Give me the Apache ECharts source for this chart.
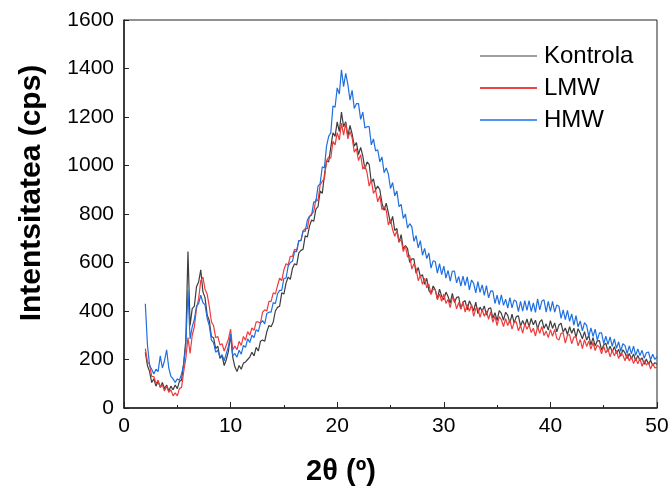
<!DOCTYPE html>
<html>
<head>
<meta charset="utf-8">
<script src="https://cdn.jsdelivr.net/npm/echarts@6/dist/echarts.min.js"></script>
<style>
html,body{margin:0;padding:0;background:#fff;}
#chart{width:672px;height:491px;}
</style>
</head>
<body>
<div id="chart"></div>
<script>
// 2θ sampling grid: 2.0 .. 50.0 step 0.2 (241 points)
const twoTheta = Array.from({length: 241}, (_, i) => Math.round((2 + i * 0.2) * 10) / 10);

const seriesNames = ['Kontrola', 'LMW', 'HMW'];

const kontrola = [
  230, 175, 150, 105, 120, 90, 110, 85, 105, 80,
  95, 70, 90, 75, 95, 80, 110, 115, 185, 280,
  645, 340, 410, 420, 500, 520, 570, 480, 455, 385,
  360, 295, 290, 245, 255, 205, 215, 175, 200, 235,
  300, 210, 170, 150, 175, 160, 185, 190, 200, 210,
  230, 215, 250, 235, 275, 280, 275, 315, 340, 335,
  355, 400, 415, 420, 475, 470, 515, 540, 530, 575,
  595, 590, 640, 650, 655, 710, 705, 750, 775, 770,
  820, 830, 895, 885, 960, 1020, 1015, 1075, 1135, 1120,
  1180, 1140, 1220, 1160, 1180, 1120, 1165, 1130, 1080, 1095,
  1045, 1075, 1040, 985, 1015, 1005, 930, 945, 900, 915,
  900, 845, 815, 845, 805, 760, 790, 732, 740, 683,
  715, 655, 670, 657, 600, 615, 615, 555, 580, 542,
  550, 510, 535, 485, 472, 503, 487, 451, 490, 460,
  447, 478, 460, 432, 473, 435, 456, 458, 409, 436,
  443, 405, 442, 423, 400, 437, 389, 416, 399, 421,
  383, 410, 413, 370, 393, 360, 402, 390, 362, 395,
  382, 350, 387, 350, 377, 380, 338, 361, 339, 367,
  335, 369, 343, 362, 326, 355, 364, 328, 347, 321,
  360, 328, 351, 314, 342, 350, 313, 330, 303, 335,
  308, 329, 291, 327, 309, 285, 315, 280, 300, 260,
  290, 256, 277, 278, 239, 260, 267, 233, 255, 231,
  253, 225, 242, 213, 240, 227, 204, 225, 202, 223,
  195, 217, 195, 207, 180, 202, 180, 197, 175, 187,
  180
];

const lmw = [
  245, 190, 180, 130, 130, 100, 115, 85, 95, 70,
  90, 65, 75, 50, 62, 50, 80, 85, 150, 205,
  290, 225, 300, 335, 410, 450, 525, 540, 490, 470,
  420, 355, 340, 290, 295, 260, 265, 235, 260, 285,
  325, 240, 255, 240, 275, 258, 295, 280, 315, 300,
  330, 320, 355, 355, 350, 395, 405, 400, 440, 440,
  475, 470, 505, 535, 525, 570, 595, 590, 625, 625,
  655, 650, 690, 690, 730, 740, 740, 790, 800, 810,
  860, 855, 920, 935, 945, 1020, 1035, 1030, 1100, 1085,
  1135, 1105, 1175, 1125, 1175, 1110, 1140, 1115, 1055, 1070,
  1020, 1045, 985, 1000, 970, 915, 940, 885, 900, 850,
  875, 818, 830, 815, 755, 777, 735, 708, 730, 685,
  695, 645, 670, 622, 630, 573, 595, 575, 525, 547,
  510, 535, 495, 511, 468, 490, 488, 446, 470, 440,
  470, 431, 448, 414, 456, 447, 409, 435, 407, 438,
  395, 427, 399, 426, 378, 410, 412, 374, 406, 378,
  400, 366, 397, 353, 379, 340, 377, 364, 336, 368,
  340, 363, 325, 353, 355, 318, 341, 309, 347, 325,
  343, 311, 329, 297, 335, 308, 336, 299, 317, 290,
  323, 296, 324, 287, 280, 308, 310, 268, 300, 303,
  265, 292, 294, 256, 283, 245, 282, 254, 276, 243,
  270, 237, 259, 251, 223, 255, 227, 244, 211, 238,
  215, 237, 204, 226, 218, 195, 222, 194, 211, 183,
  205, 182, 205, 172, 195, 177, 189, 161, 183, 165,
  168
];

const hmw = [
  430, 260, 175, 160, 140, 160, 150, 215, 165, 195,
  240, 165, 130, 120, 105, 120, 115, 140, 180, 260,
  485, 285, 335, 365, 420, 430, 465, 435, 425, 370,
  340, 280, 270, 230, 238, 210, 220, 195, 225, 255,
  305, 215, 225, 210, 238, 222, 258, 250, 285, 270,
  300, 290, 323, 315, 350, 360, 347, 390, 395, 395,
  435, 430, 470, 485, 485, 535, 535, 585, 600, 605,
  645, 645, 690, 690, 730, 728, 775, 790, 795, 850,
  850, 915, 925, 995, 990, 1080, 1120, 1135, 1245, 1240,
  1320, 1295, 1395, 1325, 1380, 1335, 1270, 1310, 1235, 1255,
  1255, 1190, 1220, 1155, 1160, 1160, 1085, 1110, 1060, 1065,
  1015, 1035, 970, 990, 965, 905, 930, 875, 895, 830,
  840, 782, 800, 742, 760, 748, 687, 711, 660, 690,
  630, 658, 616, 639, 577, 607, 604, 556, 595, 550,
  585, 536, 567, 523, 564, 565, 516, 542, 503, 544,
  505, 541, 487, 528, 514, 475, 521, 477, 508, 464,
  505, 454, 483, 482, 431, 465, 426, 467, 423, 449,
  412, 455, 413, 446, 439, 397, 440, 399, 443, 403,
  443, 398, 433, 394, 450, 405, 441, 446, 395, 440,
  398, 440, 395, 425, 420, 370, 405, 364, 403, 357,
  388, 342, 381, 335, 359, 318, 352, 341, 295, 330,
  295, 325, 280, 310, 310, 265, 296, 262, 293, 254,
  285, 246, 273, 234, 265, 257, 224, 256, 223, 255,
  217, 244, 216, 238, 205, 228, 231, 199, 222, 200,
  212
];

const xTitle = '2θ (º)';
const yTitle = 'Intentsitatea (cps)';

const FONT = '"Liberation Sans", Arial, Helvetica, sans-serif';
const lineColors = ['#3d3d3d', '#ef3b3b', '#1e6fe0'];
const legendColors = ['#a0a0a0', '#f04444', '#4f94f0'];
const values = [kontrola, lmw, hmw];

const chart = echarts.init(document.getElementById('chart'), null, {renderer: 'canvas'});

chart.setOption({
  animation: false,
  backgroundColor: '#ffffff',
  grid: {
    left: 124, right: 15, top: 20, bottom: 83,
    show: true, borderColor: '#222', borderWidth: 1, backgroundColor: 'transparent'
  },
  legend: {
    orient: 'vertical',
    left: 480, top: 44,
    padding: 0,
    itemGap: 8,
    itemWidth: 57,
    itemHeight: 2,
    icon: 'rect',
    textStyle: {fontFamily: FONT, fontSize: 24, color: '#000', lineHeight: 24, padding: [0, 0, 0, 2]},
    data: seriesNames.map((n, i) => ({name: n, itemStyle: {color: legendColors[i]}}))
  },
  xAxis: {
    type: 'value',
    min: 0, max: 50, interval: 10,
    axisLine: {show: true, lineStyle: {color: '#222', width: 1.5}},
    axisTick: {show: true, inside: true, length: 6, lineStyle: {color: '#222', width: 1}},
    minorTick: {show: true, splitNumber: 2, length: 3, lineStyle: {color: '#222', width: 1}},
    splitLine: {show: false},
    axisLabel: {fontFamily: FONT, fontSize: 21, color: '#000', margin: 8, formatter: v => String(v)}
  },
  yAxis: {
    type: 'value',
    min: 0, max: 1600, interval: 200,
    axisLine: {show: true, lineStyle: {color: '#222', width: 1.5}},
    axisTick: {show: true, inside: true, length: 5, lineStyle: {color: '#222', width: 1}},
    splitLine: {show: false},
    axisLabel: {fontFamily: FONT, fontSize: 21, color: '#000', margin: 10, formatter: v => String(v)}
  },
  graphic: [
    {
      type: 'text', x: 341, y: 472,
      style: {text: xTitle, fontFamily: FONT, fontSize: 29, fontWeight: 'bold', fill: '#000',
        textAlign: 'center', textVerticalAlign: 'middle'}
    },
    {
      type: 'text', x: 32, y: 193, rotation: Math.PI / 2,
      style: {text: yTitle, fontFamily: FONT, fontSize: 30, fontWeight: 'bold', fill: '#000',
        textAlign: 'center', textVerticalAlign: 'middle'}
    }
  ],
  series: seriesNames.map((n, k) => ({
    name: n,
    type: 'line',
    showSymbol: false,
    symbol: 'none',
    clip: true,
    lineStyle: {color: lineColors[k], width: 1.2},
    itemStyle: {color: lineColors[k]},
    data: values[k].map((v, i) => [twoTheta[i], v])
  }))
});
</script>
</body>
</html>
